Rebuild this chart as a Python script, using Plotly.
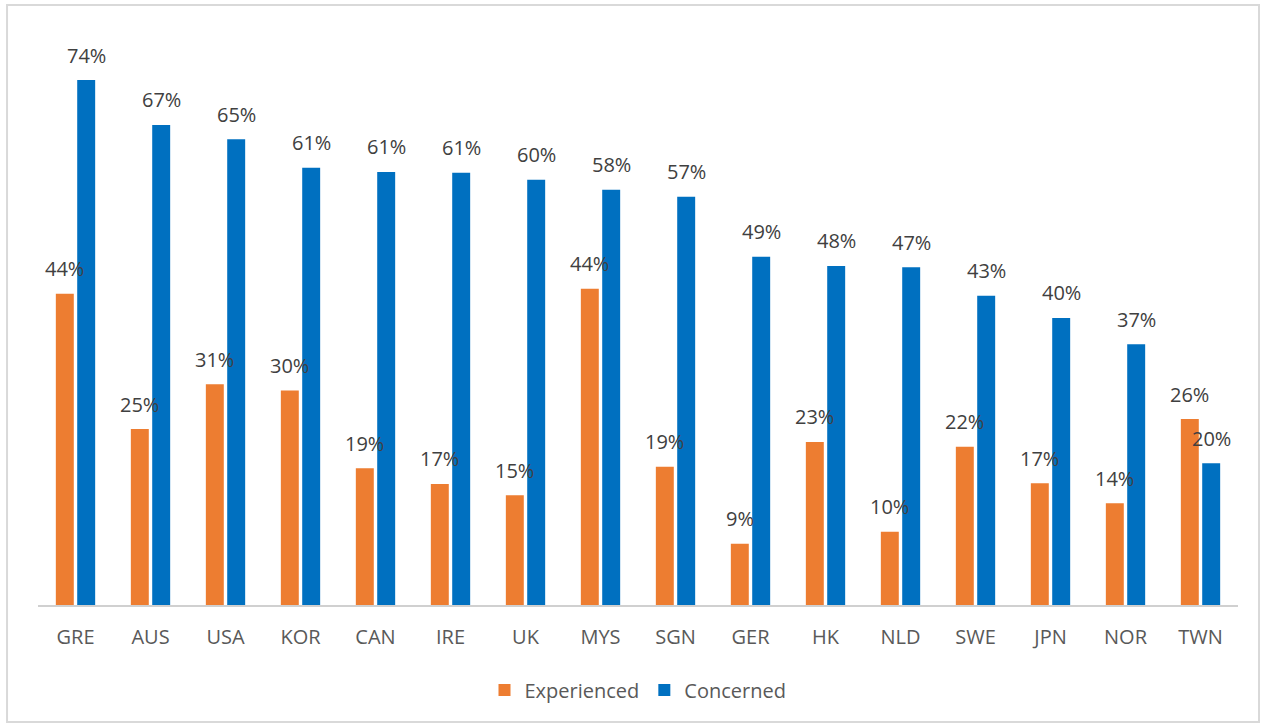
import plotly.graph_objects as go

# Countries and shares (%) of respondents
countries = ["GRE", "AUS", "USA", "KOR", "CAN", "IRE", "UK", "MYS",
             "SGN", "GER", "HK", "NLD", "SWE", "JPN", "NOR", "TWN"]
experienced = [43.7, 24.7, 31.0, 30.1, 19.2, 17.0, 15.4, 44.4,
               19.4, 8.6, 22.9, 10.3, 22.2, 17.1, 14.3, 26.1]
concerned = [73.7, 67.4, 65.4, 61.4, 60.8, 60.7, 59.7, 58.3,
             57.3, 48.9, 47.6, 47.4, 43.4, 40.3, 36.6, 19.9]

ORANGE = "#ED7D31"
BLUE = "#0070C0"
FONT = "Open Sans"

fig = go.Figure()
fig.add_trace(go.Bar(name="Experienced", x=countries, y=experienced,
                     marker=dict(color=ORANGE, line=dict(width=0))))
fig.add_trace(go.Bar(name="Concerned", x=countries, y=concerned,
                     marker=dict(color=BLUE, line=dict(width=0))))

# Value labels above each bar (offset to the left / right bar of each group)
annotations = []
for series, shift in ((experienced, -10.7), (concerned, 10.7)):
    for c, v in zip(countries, series):
        annotations.append(dict(
            x=c, y=v, xref="x", yref="y", text=f"{round(v)}%",
            showarrow=False, xshift=shift, yshift=25, yanchor="middle",
            font=dict(family=FONT, size=20, color="#404040"),
        ))

fig.update_layout(
    width=1266, height=724,
    margin=dict(l=38, r=28, t=38, b=119),
    paper_bgcolor="white", plot_bgcolor="white",
    barmode="group", bargap=0.43, bargroupgap=0.16,
    font=dict(family=FONT, size=20, color="#595959"),
    showlegend=True,
    legend=dict(orientation="h", x=0.5, xanchor="center",
                y=-0.15, yanchor="middle",
                font=dict(family=FONT, size=20, color="#595959"),
                itemwidth=30, traceorder="normal"),
    annotations=annotations,
    shapes=[dict(type="rect", xref="paper", yref="paper",
                 x0=-0.0258, x1=1.0175, y0=-0.2063, y1=1.0582,
                 line=dict(color="#d9d9d9", width=2), layer="below")],
)
fig.update_xaxes(showline=True, linecolor="#d0d0d0", linewidth=1.5,
                 ticks="outside", ticklen=13, tickcolor="rgba(0,0,0,0)",
                 tickfont=dict(family=FONT, size=20, color="#595959"),
                 showgrid=False, zeroline=False, fixedrange=True)
fig.update_yaxes(visible=False, range=[0, 79.6], showgrid=False,
                 zeroline=False)

fig.write_html("out.html")
